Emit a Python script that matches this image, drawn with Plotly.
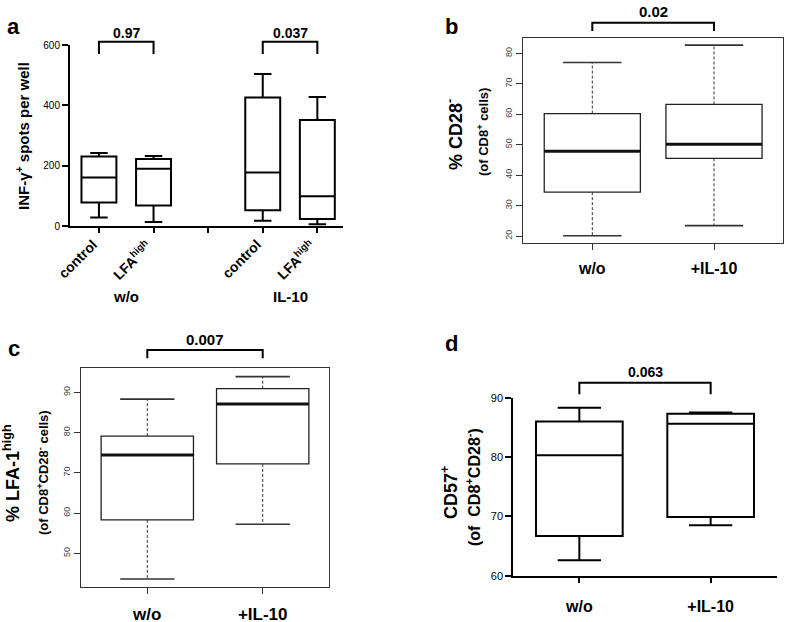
import plotly.graph_objects as go

W, H = 787, 622
FONT = "Liberation Sans, Arial, Helvetica, sans-serif"

# ---------------- data ----------------
# Panel a: IFN-gamma ELISpot
a_positions = [0, 1, 3, 4]
a_tickvals = [0, 1, 2, 3, 4]
a_ticktext = ["control", "LFA<sup>high</sup>", "", "control", "LFA<sup>high</sup>"]
a_lower = [28, 13, 17, 6]
a_q1 = [78, 68, 52, 23]
a_median = [161, 190, 177, 99]
a_q3 = [230, 222, 426, 351]
a_upper = [242, 232, 504, 428]
a_groups = ["w/o", "IL-10"]
a_group_centers = [0.5, 3.5]
a_yticks = [0, 200, 400, 600]
a_pairs = [(0, 1), (3, 4)]
a_pvalues = ["0.97", "0.037"]

# Panels b, c, d share categories
bcd_categories = ["w/o", "+IL-10"]

# Panel b: % CD28-
b_positions = [1, 2]
b_lower = [20.1, 23.4]
b_q1 = [34.4, 45.5]
b_median = [47.8, 50.1]
b_q3 = [60.2, 63.2]
b_upper = [77.0, 82.7]
b_yticks = [20, 30, 40, 50, 60, 70, 80]
b_pvalue = "0.02"

# Panel c: % LFA-1 high
c_positions = [1, 2]
c_lower = [43.6, 57.2]
c_q1 = [58.3, 72.2]
c_median = [74.4, 87.1]
c_q3 = [79.1, 90.9]
c_upper = [88.3, 93.9]
c_yticks = [50, 60, 70, 80, 90]
c_pvalue = "0.007"

# Panel d: CD57+
d_positions = [0, 1]
d_lower = [62.6, 68.5]
d_q1 = [66.7, 69.9]
d_median = [80.3, 85.6]
d_q3 = [86.0, 87.3]
d_upper = [88.3, 87.5]
d_yticks = [60, 70, 80, 90]
d_pvalue = "0.063"


# ---------------- helpers ----------------
def fx(px):
    return px / W


def fy(py):
    return 1 - py / H


fig = go.Figure()


def prism_box(positions, lo, q1, med, q3, hi, width, ax):
    fig.add_trace(go.Box(
        x=positions, lowerfence=lo, q1=q1, median=med, q3=q3, upperfence=hi,
        width=width, whiskerwidth=0.5, boxpoints=False,
        line=dict(color="black", width=2), fillcolor="white",
        xaxis="x" + ax, yaxis="y" + ax, hoverinfo="skip", showlegend=False))


def r_box(positions, lo, q1, med, q3, hi, width, staple, ax):
    fig.add_trace(go.Box(
        x=positions, lowerfence=q1, q1=q1, median=med, q3=q3, upperfence=q3,
        width=width, whiskerwidth=0, boxpoints=False,
        line=dict(color="#222", width=1.3), fillcolor="rgba(0,0,0,0)",
        xaxis="x" + ax, yaxis="y" + ax, hoverinfo="skip", showlegend=False))
    wx, wy, sx, sy, mx, my = [], [], [], [], [], []
    for p, l, a, m, b, h in zip(positions, lo, q1, med, q3, hi):
        wx += [p, p, None, p, p, None]
        wy += [b, h, None, a, l, None]
        sx += [p - staple / 2, p + staple / 2, None, p - staple / 2, p + staple / 2, None]
        sy += [h, h, None, l, l, None]
        mx += [p - width / 2, p + width / 2, None]
        my += [m, m, None]
    fig.add_trace(go.Scatter(x=wx, y=wy, mode="lines",
                             line=dict(color="#333", width=1, dash="3px,2px"),
                             xaxis="x" + ax, yaxis="y" + ax, hoverinfo="skip", showlegend=False))
    fig.add_trace(go.Scatter(x=sx, y=sy, mode="lines",
                             line=dict(color="#333", width=1.6),
                             xaxis="x" + ax, yaxis="y" + ax, hoverinfo="skip", showlegend=False))
    fig.add_trace(go.Scatter(x=mx, y=my, mode="lines",
                             line=dict(color="#111", width=3),
                             xaxis="x" + ax, yaxis="y" + ax, hoverinfo="skip", showlegend=False))


shapes = []
annotations = []


def bracket(xref, x0, x1, ytop, ybot, text, text_y, size=14):
    shapes.append(dict(
        type="path", xref=xref, yref="paper",
        path=f"M {x0},{fy(ybot)} L {x0},{fy(ytop)} L {x1},{fy(ytop)} L {x1},{fy(ybot)}",
        line=dict(color="black", width=2)))
    annotations.append(dict(
        x=(x0 + x1) / 2, xref=xref, y=fy(text_y), yref="paper", text=f"<b>{text}</b>",
        showarrow=False, xanchor="center", yanchor="middle",
        font=dict(size=size, color="black", family=FONT)))


def label(text, px, py, size, angle=0):
    annotations.append(dict(
        x=fx(px), y=fy(py), xref="paper", yref="paper", text=text, textangle=angle,
        showarrow=False, xanchor="center", yanchor="middle",
        font=dict(size=size, color="black", family=FONT)))


# ---------------- traces ----------------
prism_box(a_positions, a_lower, a_q1, a_median, a_q3, a_upper, 0.64, "")
r_box(b_positions, b_lower, b_q1, b_median, b_q3, b_upper, 0.79, 0.48, "2")
r_box(c_positions, c_lower, c_q1, c_median, c_q3, c_upper, 0.8, 0.47, "3")
prism_box(d_positions, d_lower, d_q1, d_median, d_q3, d_upper, 0.66, "4")

# ---------------- brackets / labels ----------------
for (i, j), p in zip(a_pairs, a_pvalues):
    bracket("x", i, j, 41.7, 54, p, 33)
bracket("x2", b_positions[0], b_positions[1], 22.7, 31, b_pvalue, 11, 15)
bracket("x3", c_positions[0], c_positions[1], 350, 358.3, c_pvalue, 339, 15)
bracket("x4", d_positions[0], d_positions[1], 382.7, 394.3, d_pvalue, 372, 14)

# slanted category labels of panel a (ending at their tick)
for tv, tt in zip(a_tickvals, a_ticktext):
    if tt:
        annotations.append(dict(x=tv + 0.07, xref="x", y=fy(234), yref="paper",
                                text=f"<b>{tt}</b>", textangle=-45, showarrow=False,
                                xanchor="right", yanchor="top",
                                font=dict(size=14, color="black", family=FONT)))

for g, cx in zip(a_groups, a_group_centers):
    annotations.append(dict(x=cx, xref="x", y=fy(296), yref="paper", text=f"<b>{g}</b>",
                            showarrow=False, xanchor="center", yanchor="middle",
                            font=dict(size=15, color="black", family=FONT)))

label("<b>a</b>", 13, 26, 22)
label("<b>b</b>", 451, 26, 22)
label("<b>c</b>", 13.5, 348, 22)
label("<b>d</b>", 451, 343, 22)

label("<b>INF-γ<sup>+</sup> spots per well</b>", 22, 136, 15, -90)
label("<b>% CD28<sup>-</sup></b>", 455, 135, 18, -90)
label("<b>(of CD8<sup>+</sup> cells)</b>", 483, 132, 13, -90)
label("<b>% LFA-1<sup>high</sup></b>", 12, 473, 18, -90)
label("<b>(of CD8<sup>+</sup>CD28<sup>-</sup> cells)</b>", 43, 473, 13, -90)
label("<b>CD57<sup>+</sup></b>", 449, 493, 18, -90)
label("<b>(of  CD8<sup>+</sup>CD28<sup>-</sup>)</b>", 473, 487, 16, -90)

# ---------------- axes ----------------
common = dict(type="linear", showgrid=False, zeroline=False, showline=True, automargin=False)
prism_x = dict(common, linecolor="black", linewidth=2, ticks="outside", ticklen=5, tickwidth=2,
               tickcolor="black")
prism_y = dict(common, linecolor="black", linewidth=2, ticks="outside", ticklen=6, tickwidth=2,
               tickcolor="black", tickfont=dict(size=10, color="black", family=FONT))
r_x = dict(common, mirror=True, linecolor="#333", linewidth=1, ticks="outside", ticklen=6,
           tickwidth=1, tickcolor="#333")
r_y = dict(common, mirror=True, linecolor="#333", linewidth=1, ticks="outside", ticklen=6,
           tickwidth=1, tickcolor="#333", tickangle=-90,
           tickfont=dict(size=9, color="#444", family=FONT))

cat_font = lambda s: dict(size=s, color="black", family=FONT, weight="bold")

fig.update_layout(
    template="none",
    width=W, height=H, margin=dict(l=0, r=0, t=0, b=0, autoexpand=False),
    paper_bgcolor="white", plot_bgcolor="white", showlegend=False,
    font=dict(family=FONT, color="black"),
    xaxis=dict(prism_x, domain=[fx(70), fx(343)], range=[-0.53, 4.47],
               tickvals=a_tickvals, showticklabels=False, anchor="y"),
    yaxis=dict(prism_y, domain=[fy(226), fy(45)], range=[0, 600], tickvals=a_yticks, anchor="x"),
    xaxis2=dict(r_x, domain=[fx(522.7), fx(783)], range=[0.428, 2.567],
                tickvals=b_positions, ticktext=bcd_categories, tickfont=cat_font(16),
                ticklabelstandoff=5, anchor="y2"),
    yaxis2=dict(r_y, domain=[fy(243), fy(37.5)], range=[17.7, 85.19], tickvals=b_yticks,
                anchor="x2"),
    xaxis3=dict(r_x, domain=[fx(80.7), fx(329.3)], range=[0.423, 2.577],
                tickvals=c_positions, ticktext=bcd_categories, tickfont=cat_font(17),
                ticklabelstandoff=5, anchor="y3"),
    yaxis3=dict(r_y, domain=[fy(587.3), fy(368.3)], range=[41.55, 95.96], tickvals=c_yticks,
                anchor="x3"),
    xaxis4=dict(prism_x, domain=[fx(513.3), fx(776.7)], range=[-0.503, 1.503],
                tickvals=d_positions, ticktext=bcd_categories, tickfont=cat_font(16),
                ticklabelstandoff=10, anchor="y4"),
    yaxis4=dict(prism_y, domain=[fy(575.7), fy(397.7)], range=[60, 90], tickvals=d_yticks,
                tickfont=dict(size=11, color="black", family=FONT), anchor="x4"),
    shapes=shapes, annotations=annotations,
)

fig.write_html(
    "out.html",
    config={"displayModeBar": False},
    post_script="document.body.style.margin='0';",
)
